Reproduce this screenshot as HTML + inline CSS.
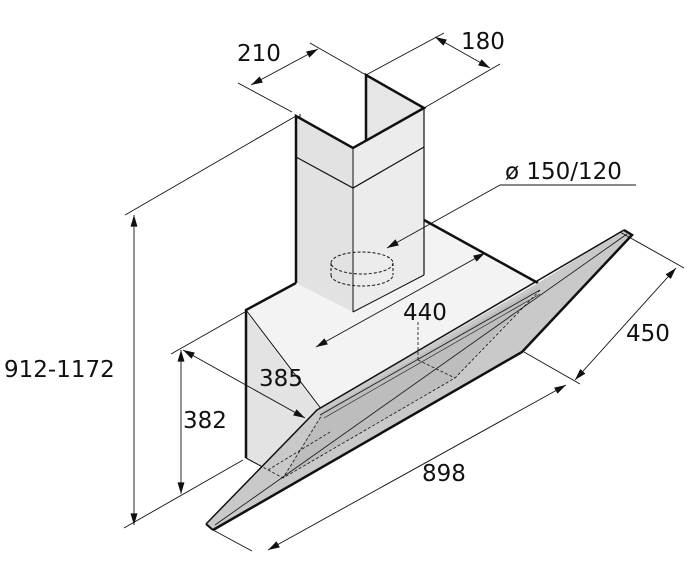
<!DOCTYPE html>
<html><head><meta charset="utf-8"><style>
html,body{margin:0;padding:0;background:#fff;}
svg{display:block}
text{font-family:"DejaVu Sans","Liberation Sans",sans-serif;font-size:23px;fill:#111}
</style></head><body>
<svg width="687" height="563" viewBox="0 0 687 563" xmlns="http://www.w3.org/2000/svg">
<defs>
<marker id="a" viewBox="0 0 10 6" refX="10" refY="3" markerWidth="12" markerHeight="7" orient="auto-start-reverse" markerUnits="userSpaceOnUse"><path d="M0,0 L10,3 L0,6z" fill="#111"/></marker>
</defs>
<!-- box top face -->
<polygon points="246,310 296,283 424,275 424,220 538,283 322,412 246,370" fill="#f3f3f3"/>
<!-- box left face -->
<polygon points="246,312 322,412 270,470 246,458" fill="#e3e3e3"/>
<!-- chimney faces -->
<polygon points="296,116 353,148 353,312 296,283" fill="#e2e2e2"/>
<polygon points="353,148 424,108 424,275 353,312" fill="#ececec"/>
<polygon points="366,75 424,108 366,140" fill="#e6e6e6"/>
<g stroke="#111" fill="none">
<polyline points="296,283 296,116 353,148 424,108 366,75 366,140" stroke-width="2.5"/>
<line x1="300" y1="114" x2="300" y2="118" stroke-width="1"/>
<line x1="424" y1="108" x2="424" y2="275" stroke-width="1.2"/>
<line x1="353" y1="148" x2="353" y2="312" stroke-width="1"/>
<polyline points="296,157 353,188 424,147" stroke-width="1.2"/>
<line x1="353" y1="312" x2="424" y2="275" stroke-width="1"/>
<!-- box edges -->
<polyline points="296,283 246,310 246,458" stroke-width="2.5"/>
<line x1="246" y1="310" x2="322" y2="410" stroke-width="1"/>
<line x1="424" y1="220" x2="538" y2="283" stroke-width="2.5"/>
<line x1="246" y1="458" x2="268" y2="470" stroke-width="1"/>
<!-- duct dashed -->
<g stroke-dasharray="3,2" stroke-width="1">
<ellipse cx="362" cy="263" rx="31" ry="11"/>
<path d="M331,263 v12 M393,263 v12 M331,275 a31,11 0 0 0 62,0"/>
</g>
</g>
<!-- glass -->
<polygon points="206,524 317,410 538,283 624,230 632,235 522,352 213,530" fill="#c9c9c9"/>
<polygon points="322,412 540,286 455,378 283,478" fill="#bdbdbd"/>
<g stroke="#111" fill="none">
<polyline points="213,530 522,352 632,235 624,230" stroke-width="2.5"/>
<polyline points="206,524 317,410 624,230" stroke-width="1.5"/>
<line x1="213" y1="530" x2="206" y2="524" stroke-width="2"/>
<line x1="215" y1="525" x2="627" y2="234" stroke-width="0.8"/>
<line x1="320" y1="415" x2="540" y2="290" stroke-width="0.8"/>
<line x1="324" y1="418" x2="540" y2="294" stroke-width="0.6"/>
<g stroke-width="0.8" stroke-dasharray="3,2">
<polyline points="540,290 455,378 283,478 322,415"/>
<line x1="418" y1="322" x2="418" y2="360"/>
<line x1="418" y1="360" x2="455" y2="378"/>
<line x1="246" y1="458" x2="283" y2="478"/>
<line x1="268" y1="470" x2="330" y2="432"/>
</g>
</g>
<!-- dimension lines -->
<g stroke="#111" stroke-width="0.9" fill="none">
<line x1="125" y1="215" x2="296" y2="116"/>
<line x1="124" y1="528" x2="243" y2="460"/>
<line x1="134" y1="215" x2="134" y2="525" marker-start="url(#a)" marker-end="url(#a)"/>
<line x1="171" y1="354" x2="245" y2="312"/>
<line x1="181" y1="350" x2="181" y2="494" marker-start="url(#a)" marker-end="url(#a)"/>
<line x1="183" y1="350" x2="305" y2="418" marker-start="url(#a)" marker-end="url(#a)"/>
<line x1="316" y1="347" x2="485" y2="253" marker-start="url(#a)" marker-end="url(#a)"/>
<line x1="387" y1="248" x2="500" y2="185" marker-start="url(#a)"/>
<line x1="500" y1="185" x2="636" y2="185"/>
<line x1="620" y1="232" x2="684" y2="268"/>
<line x1="524" y1="352" x2="580" y2="384"/>
<line x1="575" y1="380" x2="676" y2="268" marker-start="url(#a)" marker-end="url(#a)"/>
<line x1="213" y1="530" x2="252" y2="551"/>
<line x1="268" y1="550" x2="566" y2="385" marker-start="url(#a)" marker-end="url(#a)"/>
<line x1="238" y1="83" x2="292" y2="112"/>
<line x1="310" y1="43" x2="366" y2="75"/>
<line x1="251" y1="85" x2="318" y2="49" marker-start="url(#a)" marker-end="url(#a)"/>
<line x1="366" y1="75" x2="444" y2="33"/>
<line x1="424" y1="108" x2="500" y2="64"/>
<line x1="435" y1="37" x2="490" y2="68" marker-start="url(#a)" marker-end="url(#a)"/>
</g>
<text x="237" y="61">210</text>
<text x="461" y="49">180</text>
<text x="505" y="179">ø 150/120</text>
<text x="403" y="320">440</text>
<text x="626" y="341">450</text>
<text x="259" y="386">385</text>
<text x="183" y="428">382</text>
<text x="4" y="377">912-1172</text>
<text x="422" y="481">898</text>
</svg>
</body></html>
